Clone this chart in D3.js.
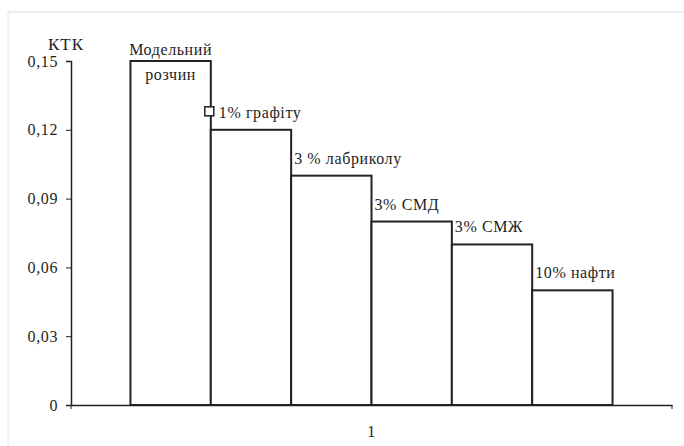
<!DOCTYPE html>
<html>
<head>
<meta charset="utf-8">
<script src="https://cdn.jsdelivr.net/npm/d3@7"></script>
<style>
  body { margin: 0; background: #fff; }
</style>
</head>
<body>
<svg width="684" height="446"></svg>
<script>
const categories = ['1'];
const series = ['Модельний розчин', '1% графіту', '3 % лабриколу', '3% СМД', '3% СМЖ', '10% нафти'];
const values = [0.15, 0.12, 0.10, 0.08, 0.07, 0.05];
const yTicks = [0, 0.03, 0.06, 0.09, 0.12, 0.15];

const margin = { top: 61, right: 12, bottom: 41, left: 71 };
const maxWidth = 684;
const maxHeight = 446;
const serif = '"Liberation Serif"';

const svg = d3.select('svg');

// faint frame
svg.append('line')
  .attr('x1', 8).attr('y1', 12).attr('x2', maxWidth).attr('y2', 12)
  .attr('stroke', '#ddd');
svg.append('line')
  .attr('x1', 8).attr('y1', 12).attr('x2', 8).attr('y2', maxHeight)
  .attr('stroke', '#e4e4e4');

const xScale = d3.scaleBand(categories, [margin.left, maxWidth - margin.right]);
const seriesScale = d3.scaleBand(series, [0, xScale.bandwidth()])
  .paddingOuter(0.74)
  .paddingInner(0);
const yScale = d3.scaleLinear([0, 0.15], [maxHeight - margin.bottom, margin.top]);

const fmt = (d) => d === 0 ? '0' : d3.format('.2f')(d).replace('.', ',');

const rows = series.map((s, i) => ({ category: categories[0], name: s, value: values[i] }));

svg.selectAll('rect.bar')
  .data(rows)
  .join('rect')
    .attr('class', 'bar')
    .attr('x', (d) => xScale(d.category) + seriesScale(d.name))
    .attr('y', (d) => yScale(d.value))
    .attr('width', seriesScale.bandwidth())
    .attr('height', (d) => yScale(0) - yScale(d.value))
    .attr('fill', '#fff')
    .attr('stroke', '#222')
    .attr('stroke-width', 2);

const yAxis = d3.axisLeft(yScale)
  .tickValues(yTicks)
  .tickFormat(fmt)
  .tickSize(5)
  .tickPadding(8);

svg.append('g')
  .attr('transform', `translate(${margin.left}, 0)`)
  .call(yAxis)
  .call((g) => g.select('.domain').attr('stroke', '#222').attr('stroke-width', 1.5))
  .call((g) => g.selectAll('.tick line').attr('stroke', '#222'));

const xAxis = d3.axisBottom(xScale).tickSize(0).tickPadding(21);
svg.append('g')
  .attr('transform', `translate(0, ${yScale(0)})`)
  .call(xAxis)
  .call((g) => g.select('.domain').attr('stroke', '#222').attr('stroke-width', 1.5));

// band edge ticks
svg.selectAll('line.edge')
  .data(xScale.range())
  .join('line')
    .attr('class', 'edge')
    .attr('x1', (d) => d).attr('x2', (d) => d)
    .attr('y1', yScale(0)).attr('y2', yScale(0) + 4)
    .attr('stroke', '#222');

svg.append('text')
  .attr('class', 'title')
  .text('КТК')
  .attr('x', 48)
  .attr('y', 50)
  .style('font-size', '17px')
  .style('letter-spacing', '1px');

// series labels
const first = rows[0];
const firstX = xScale(first.category) + seriesScale(first.name) + seriesScale.bandwidth() / 2;
svg.append('text')
  .text('Модельний')
  .attr('x', firstX)
  .attr('y', yScale(first.value) - 6)
  .attr('text-anchor', 'middle')
  .style('font-size', '16px');
svg.append('text')
  .text('розчин')
  .attr('x', firstX)
  .attr('y', yScale(first.value) + 19)
  .attr('text-anchor', 'middle')
  .style('font-size', '16px');

svg.selectAll('text.lbl')
  .data(rows.slice(1))
  .join('text')
    .attr('class', 'lbl')
    .text((d) => d.name)
    .attr('x', (d, i) => xScale(d.category) + seriesScale(d.name) + (i === 0 ? 8 : 3))
    .attr('y', (d) => yScale(d.value) - 12)
    .style('font-size', '16px');

// small legend key next to second label
const second = rows[1];
svg.append('rect')
  .attr('x', xScale(second.category) + seriesScale(second.name) - 6)
  .attr('y', yScale(second.value) - 23)
  .attr('width', 9)
  .attr('height', 9)
  .attr('fill', '#fff')
  .attr('stroke', '#222')
  .attr('stroke-width', 1.5);

// common text styling
svg.selectAll('text')
  .style('font-family', serif)
  .attr('fill', '#1e1e1e')
  .filter(function () { return !this.style.fontSize; })
  .style('font-size', '16px');
svg.selectAll('text:not(.title)')
  .style('letter-spacing', '0.6px');
</script>
</body>
</html>
